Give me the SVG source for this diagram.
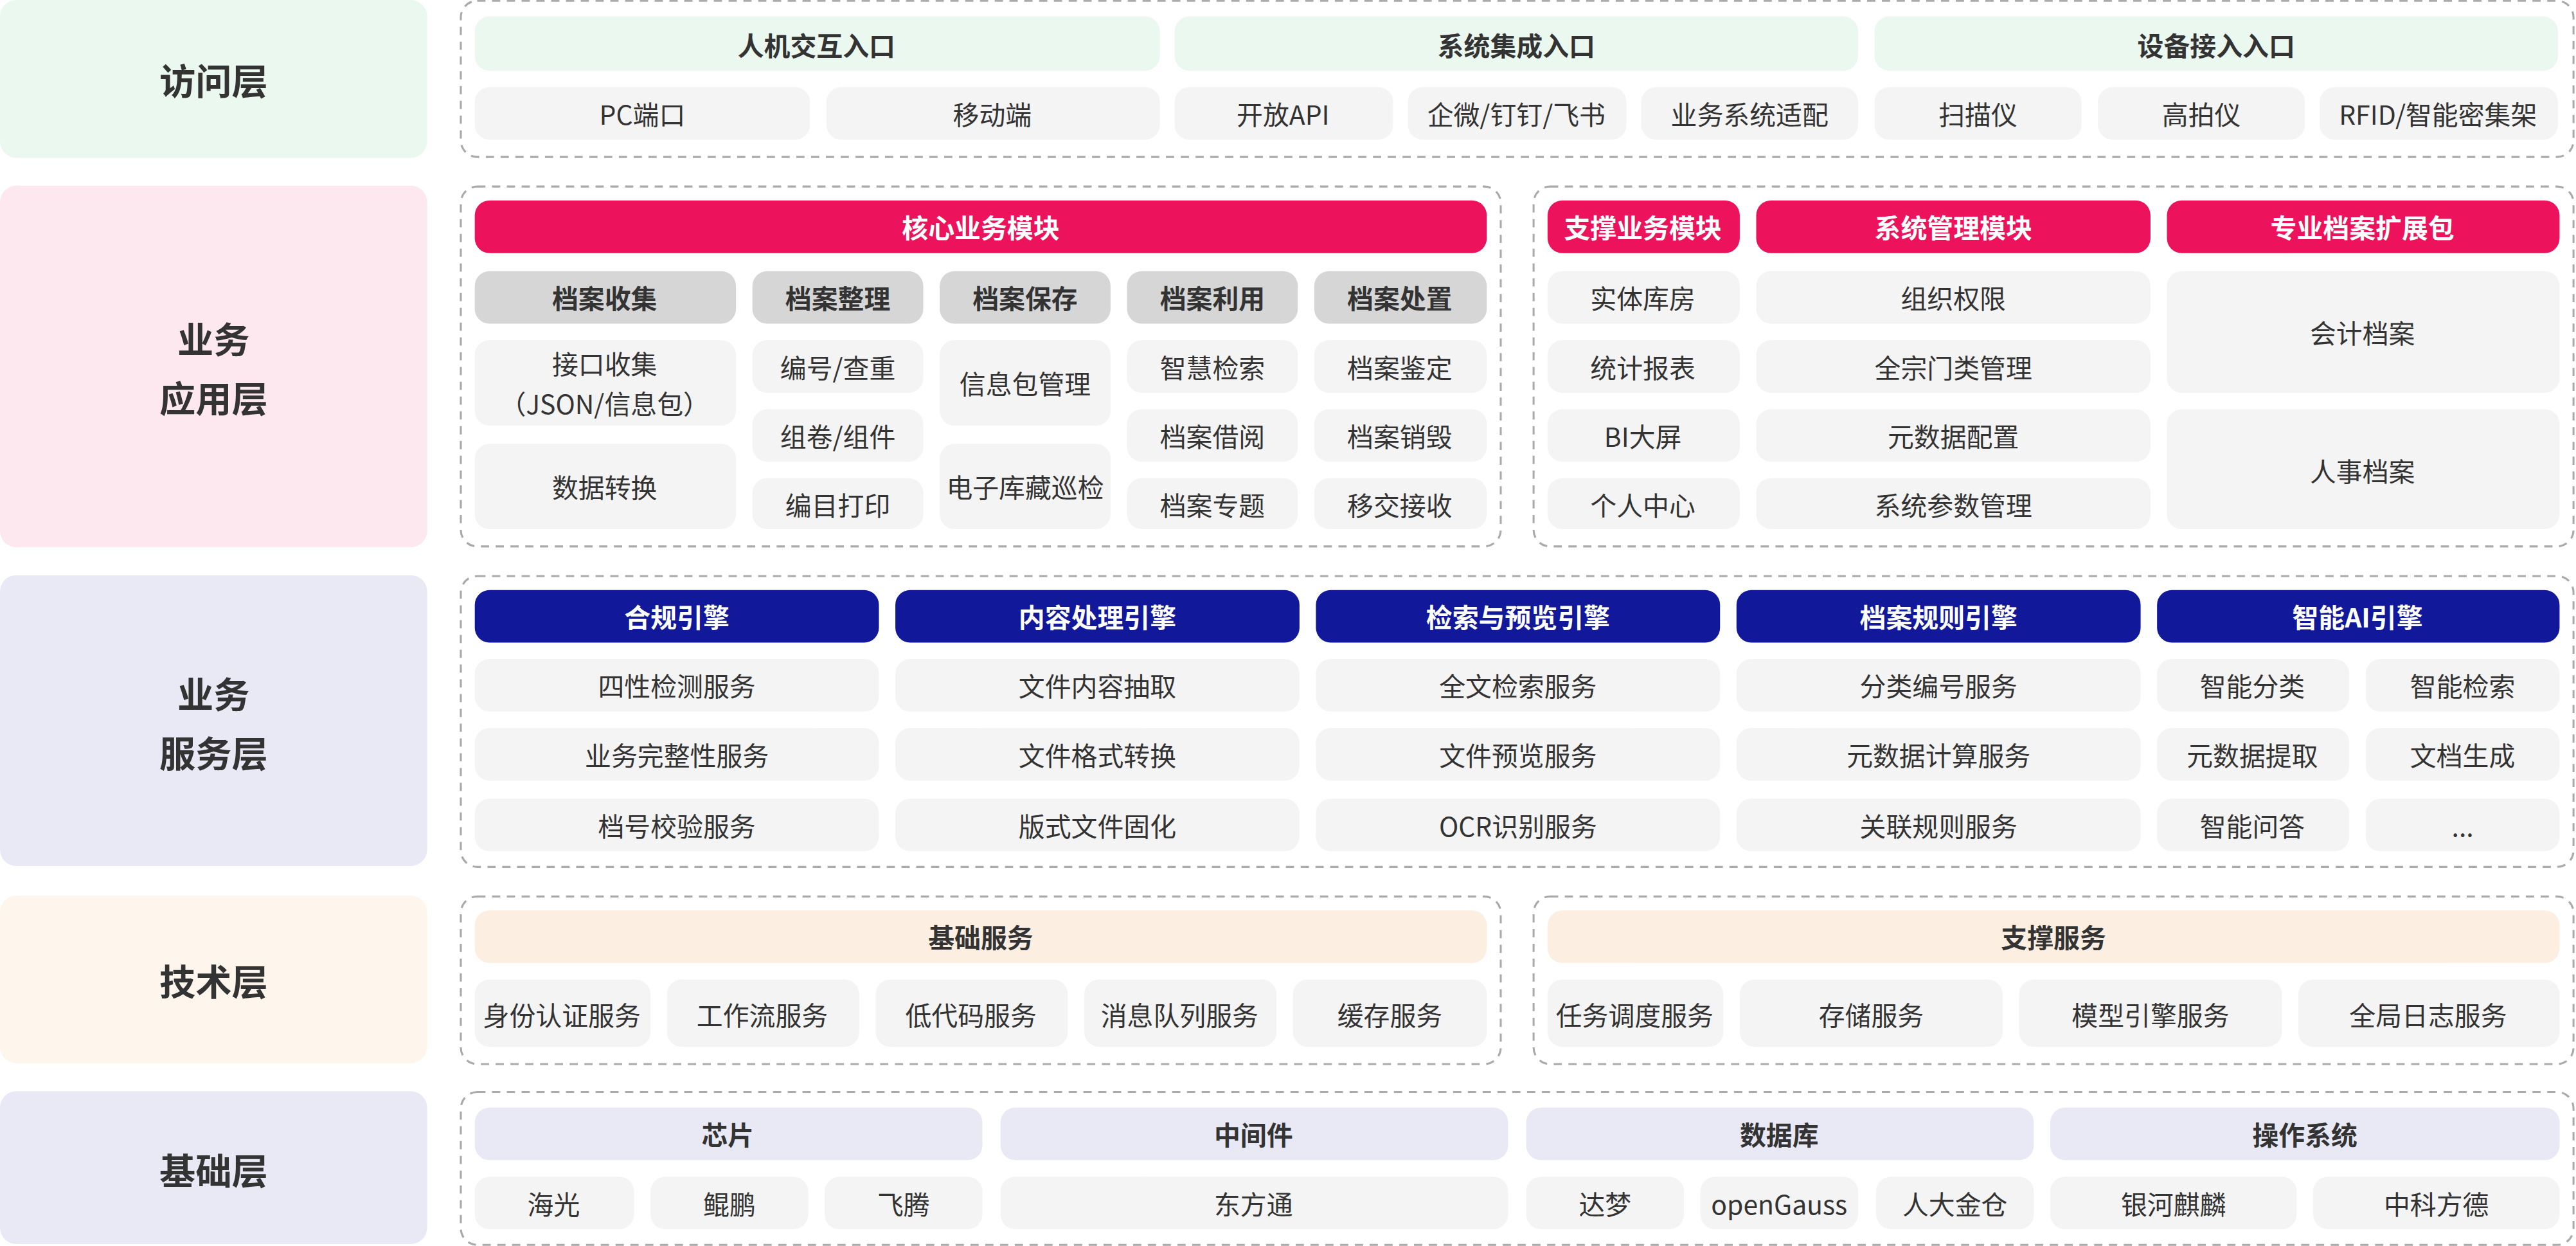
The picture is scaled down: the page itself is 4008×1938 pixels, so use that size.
<svg xmlns="http://www.w3.org/2000/svg" width="4008" height="1938" viewBox="0 0 4008 1938">
<style>
text{font-family:"Noto Sans CJK SC","Noto Sans",sans-serif;text-anchor:middle;dominant-baseline:central;fill:#333}
.it{fill:#F4F4F4}
.t{font-size:16px}
.h{font-size:16px;font-weight:bold}
.w{fill:#fff}
.L{font-size:22px;font-weight:bold}
.dc{fill:none;stroke:#AAA;stroke-width:1.2;stroke-dasharray:5 4}
.pk{fill:#EC135C}
.bl{fill:#12189A}
.gr{fill:#D6D6D6}
</style>
<rect width="4008" height="1938" fill="#fff"/>
<g transform="scale(2.5561)">
<g id="layers">
<rect x="0" y="0" width="260" height="96" rx="10" fill="#EAF8EF"/><text class="L" x="130" y="48">访问层</text>
<rect x="0" y="113" width="260" height="220" rx="10" fill="#FCE8EE"/><text class="L" x="130" y="205">业务</text><text class="L" x="130" y="241">应用层</text>
<rect x="0" y="350" width="260" height="177" rx="10" fill="#E8E9F5"/><text class="L" x="130" y="421">业务</text><text class="L" x="130" y="457">服务层</text>
<rect x="0" y="545" width="260" height="102" rx="10" fill="#FEF6EC"/><text class="L" x="130" y="596">技术层</text>
<rect x="0" y="664" width="260" height="93" rx="10" fill="#E8E9F5"/><text class="L" x="130" y="711">基础层</text>
</g>
<g id="containers">
<rect class="dc" x="280.5" y="0.5" width="1286" height="95" rx="10"/>
<rect class="dc" x="280.5" y="113.5" width="633" height="219" rx="10"/>
<rect class="dc" x="933.5" y="113.5" width="633" height="219" rx="10"/>
<rect class="dc" x="280.5" y="350.5" width="1286" height="177" rx="10"/>
<rect class="dc" x="280.5" y="545.5" width="633" height="102" rx="10"/>
<rect class="dc" x="933.5" y="545.5" width="633" height="102" rx="10"/>
<rect class="dc" x="280.5" y="664.5" width="1286" height="93" rx="10"/>
</g>
<g id="access">
<rect x="289" y="10" width="417" height="33" rx="9" fill="#EAF8EF"/><text class="h" x="497" y="27">人机交互入口</text>
<rect x="715" y="10" width="416" height="33" rx="9" fill="#EAF8EF"/><text class="h" x="923" y="27">系统集成入口</text>
<rect x="1141" y="10" width="416" height="33" rx="9" fill="#EAF8EF"/><text class="h" x="1349" y="27">设备接入入口</text>
<rect class="it" x="289" y="53" width="204" height="32" rx="9"/><text class="t" x="391" y="69">PC端口</text>
<rect class="it" x="503" y="53" width="203" height="32" rx="9"/><text class="t" x="604" y="69">移动端</text>
<rect class="it" x="715" y="53" width="133" height="32" rx="9"/><text class="t" x="781" y="69">开放API</text>
<rect class="it" x="857" y="53" width="133" height="32" rx="9"/><text class="t" x="923" y="69">企微/钉钉/飞书</text>
<rect class="it" x="999" y="53" width="132" height="32" rx="9"/><text class="t" x="1065" y="69">业务系统适配</text>
<rect class="it" x="1141" y="53" width="126" height="32" rx="9"/><text class="t" x="1204" y="69">扫描仪</text>
<rect class="it" x="1277" y="53" width="126" height="32" rx="9"/><text class="t" x="1340" y="69">高拍仪</text>
<rect class="it" x="1412" y="53" width="145" height="32" rx="9"/><text class="t" x="1484" y="69">RFID/智能密集架</text>
</g>
<g id="app">
<rect class="pk" x="289" y="122" width="616" height="32" rx="9"/><text class="h w" x="597" y="138" font-size="18">核心业务模块</text>
<rect class="gr" x="289" y="165" width="159" height="32" rx="9"/><text class="h" x="368" y="181">档案收集</text>
<rect class="gr" x="458" y="165" width="104" height="32" rx="9"/><text class="h" x="510" y="181">档案整理</text>
<rect class="gr" x="572" y="165" width="104" height="32" rx="9"/><text class="h" x="624" y="181">档案保存</text>
<rect class="gr" x="686" y="165" width="104" height="32" rx="9"/><text class="h" x="738" y="181">档案利用</text>
<rect class="gr" x="800" y="165" width="105" height="32" rx="9"/><text class="h" x="852" y="181">档案处置</text>
<rect class="it" x="289" y="207" width="159" height="52" rx="9"/><text class="t" x="368" y="221">接口收集</text><text class="t" x="368" y="245">（JSON/信息包）</text>
<rect class="it" x="289" y="270" width="159" height="52" rx="9"/><text class="t" x="368" y="296">数据转换</text>
<rect class="it" x="458" y="207" width="104" height="32" rx="9"/><text class="t" x="510" y="223">编号/查重</text>
<rect class="it" x="458" y="249" width="104" height="32" rx="9"/><text class="t" x="510" y="265">组卷/组件</text>
<rect class="it" x="458" y="291" width="104" height="31" rx="9"/><text class="t" x="510" y="307">编目打印</text>
<rect class="it" x="572" y="207" width="104" height="52" rx="9"/><text class="t" x="624" y="233">信息包管理</text>
<rect class="it" x="572" y="270" width="104" height="52" rx="9"/><text class="t" x="624" y="296">电子库藏巡检</text>
<rect class="it" x="686" y="207" width="104" height="32" rx="9"/><text class="t" x="738" y="223">智慧检索</text>
<rect class="it" x="686" y="249" width="104" height="32" rx="9"/><text class="t" x="738" y="265">档案借阅</text>
<rect class="it" x="686" y="291" width="104" height="31" rx="9"/><text class="t" x="738" y="307">档案专题</text>
<rect class="it" x="800" y="207" width="105" height="32" rx="9"/><text class="t" x="852" y="223">档案鉴定</text>
<rect class="it" x="800" y="249" width="105" height="32" rx="9"/><text class="t" x="852" y="265">档案销毁</text>
<rect class="it" x="800" y="291" width="105" height="31" rx="9"/><text class="t" x="852" y="307">移交接收</text>
<rect class="pk" x="942" y="122" width="117" height="32" rx="9"/><text class="h w" x="1000" y="138">支撑业务模块</text>
<rect class="pk" x="1069" y="122" width="240" height="32" rx="9"/><text class="h w" x="1189" y="138">系统管理模块</text>
<rect class="pk" x="1319" y="122" width="239" height="32" rx="9"/><text class="h w" x="1438" y="138">专业档案扩展包</text>
<rect class="it" x="942" y="165" width="117" height="32" rx="9"/><text class="t" x="1000" y="181">实体库房</text>
<rect class="it" x="942" y="207" width="117" height="32" rx="9"/><text class="t" x="1000" y="223">统计报表</text>
<rect class="it" x="942" y="249" width="117" height="32" rx="9"/><text class="t" x="1000" y="265">BI大屏</text>
<rect class="it" x="942" y="291" width="117" height="31" rx="9"/><text class="t" x="1000" y="307">个人中心</text>
<rect class="it" x="1069" y="165" width="240" height="32" rx="9"/><text class="t" x="1189" y="181">组织权限</text>
<rect class="it" x="1069" y="207" width="240" height="32" rx="9"/><text class="t" x="1189" y="223">全宗门类管理</text>
<rect class="it" x="1069" y="249" width="240" height="32" rx="9"/><text class="t" x="1189" y="265">元数据配置</text>
<rect class="it" x="1069" y="291" width="240" height="31" rx="9"/><text class="t" x="1189" y="307">系统参数管理</text>
<rect class="it" x="1319" y="165" width="239" height="74" rx="9"/><text class="t" x="1438" y="202">会计档案</text>
<rect class="it" x="1319" y="249" width="239" height="73" rx="9"/><text class="t" x="1438" y="286">人事档案</text>
</g>
<g id="service">
<rect class="bl" x="289" y="359" width="246" height="32" rx="9"/><text class="h w" x="412" y="375">合规引擎</text>
<rect class="bl" x="545" y="359" width="246" height="32" rx="9"/><text class="h w" x="668" y="375">内容处理引擎</text>
<rect class="bl" x="801" y="359" width="246" height="32" rx="9"/><text class="h w" x="924" y="375">检索与预览引擎</text>
<rect class="bl" x="1057" y="359" width="246" height="32" rx="9"/><text class="h w" x="1180" y="375">档案规则引擎</text>
<rect class="bl" x="1313" y="359" width="245" height="32" rx="9"/><text class="h w" x="1435" y="375">智能AI引擎</text>
<rect class="it" x="289" y="401" width="246" height="32" rx="9"/><text class="t" x="412" y="417">四性检测服务</text>
<rect class="it" x="289" y="443" width="246" height="32" rx="9"/><text class="t" x="412" y="459">业务完整性服务</text>
<rect class="it" x="289" y="486" width="246" height="32" rx="9"/><text class="t" x="412" y="502">档号校验服务</text>
<rect class="it" x="545" y="401" width="246" height="32" rx="9"/><text class="t" x="668" y="417">文件内容抽取</text>
<rect class="it" x="545" y="443" width="246" height="32" rx="9"/><text class="t" x="668" y="459">文件格式转换</text>
<rect class="it" x="545" y="486" width="246" height="32" rx="9"/><text class="t" x="668" y="502">版式文件固化</text>
<rect class="it" x="801" y="401" width="246" height="32" rx="9"/><text class="t" x="924" y="417">全文检索服务</text>
<rect class="it" x="801" y="443" width="246" height="32" rx="9"/><text class="t" x="924" y="459">文件预览服务</text>
<rect class="it" x="801" y="486" width="246" height="32" rx="9"/><text class="t" x="924" y="502">OCR识别服务</text>
<rect class="it" x="1057" y="401" width="246" height="32" rx="9"/><text class="t" x="1180" y="417">分类编号服务</text>
<rect class="it" x="1057" y="443" width="246" height="32" rx="9"/><text class="t" x="1180" y="459">元数据计算服务</text>
<rect class="it" x="1057" y="486" width="246" height="32" rx="9"/><text class="t" x="1180" y="502">关联规则服务</text>
<rect class="it" x="1313" y="401" width="117" height="32" rx="9"/><text class="t" x="1371" y="417">智能分类</text>
<rect class="it" x="1440" y="401" width="118" height="32" rx="9"/><text class="t" x="1499" y="417">智能检索</text>
<rect class="it" x="1313" y="443" width="117" height="32" rx="9"/><text class="t" x="1371" y="459">元数据提取</text>
<rect class="it" x="1440" y="443" width="118" height="32" rx="9"/><text class="t" x="1499" y="459">文档生成</text>
<rect class="it" x="1313" y="486" width="117" height="32" rx="9"/><text class="t" x="1371" y="502">智能问答</text>
<rect class="it" x="1440" y="486" width="118" height="32" rx="9"/><text class="t" x="1499" y="502">...</text>
</g>
<g id="tech">
<rect x="289" y="554" width="616" height="32" rx="9" fill="#FCEFE2"/><text class="h" x="597" y="570">基础服务</text>
<rect class="it" x="289" y="596" width="107" height="41" rx="9"/><text class="t" x="342" y="617">身份认证服务</text>
<rect class="it" x="406" y="596" width="117" height="41" rx="9"/><text class="t" x="464" y="617">工作流服务</text>
<rect class="it" x="533" y="596" width="117" height="41" rx="9"/><text class="t" x="591" y="617">低代码服务</text>
<rect class="it" x="660" y="596" width="117" height="41" rx="9"/><text class="t" x="718" y="617">消息队列服务</text>
<rect class="it" x="787" y="596" width="118" height="41" rx="9"/><text class="t" x="846" y="617">缓存服务</text>
<rect x="942" y="554" width="616" height="32" rx="9" fill="#FCEFE2"/><text class="h" x="1250" y="570">支撑服务</text>
<rect class="it" x="942" y="596" width="107" height="41" rx="9"/><text class="t" x="995" y="617">任务调度服务</text>
<rect class="it" x="1059" y="596" width="160" height="41" rx="9"/><text class="t" x="1139" y="617">存储服务</text>
<rect class="it" x="1229" y="596" width="160" height="41" rx="9"/><text class="t" x="1309" y="617">模型引擎服务</text>
<rect class="it" x="1399" y="596" width="159" height="41" rx="9"/><text class="t" x="1478" y="617">全局日志服务</text>
</g>
<g id="base">
<rect x="289" y="674" width="309" height="32" rx="9" fill="#E8E9F5"/><text class="h" x="443" y="690">芯片</text>
<rect x="609" y="674" width="309" height="32" rx="9" fill="#E8E9F5"/><text class="h" x="763" y="690">中间件</text>
<rect x="929" y="674" width="309" height="32" rx="9" fill="#E8E9F5"/><text class="h" x="1083" y="690">数据库</text>
<rect x="1248" y="674" width="310" height="32" rx="9" fill="#E8E9F5"/><text class="h" x="1403" y="690">操作系统</text>
<rect class="it" x="289" y="716" width="97" height="32" rx="9"/><text class="t" x="337" y="732">海光</text>
<rect class="it" x="396" y="716" width="96" height="32" rx="9"/><text class="t" x="444" y="732">鲲鹏</text>
<rect class="it" x="502" y="716" width="96" height="32" rx="9"/><text class="t" x="550" y="732">飞腾</text>
<rect class="it" x="609" y="716" width="309" height="32" rx="9"/><text class="t" x="763" y="732">东方通</text>
<rect class="it" x="929" y="716" width="96" height="32" rx="9"/><text class="t" x="977" y="732">达梦</text>
<rect class="it" x="1035" y="716" width="96" height="32" rx="9"/><text class="t" x="1083" y="732">openGauss</text>
<rect class="it" x="1142" y="716" width="96" height="32" rx="9"/><text class="t" x="1190" y="732">人大金仓</text>
<rect class="it" x="1248" y="716" width="150" height="32" rx="9"/><text class="t" x="1323" y="732">银河麒麟</text>
<rect class="it" x="1408" y="716" width="150" height="32" rx="9"/><text class="t" x="1483" y="732">中科方德</text>
</g>
<g id="connectors"/>
</g>
</svg>
